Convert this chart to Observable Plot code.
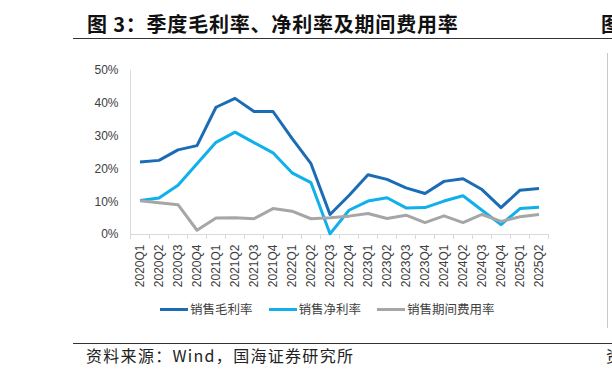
<!DOCTYPE html>
<html>
<head>
<meta charset="utf-8">
<script src="https://cdn.jsdelivr.net/npm/d3@7"></script>
<script src="https://cdn.jsdelivr.net/npm/@observablehq/plot@0.6"></script>
<style>
  html, body { margin: 0; padding: 0; background: #fff; }
  #page { position: relative; width: 612px; height: 379px; overflow: hidden; background: #fff; }
  .abs { position: absolute; white-space: nowrap; }
  #title { left: 87px; top: 10px; font-family: "Noto Sans CJK SC", sans-serif; font-weight: bold; font-size: 20px; letter-spacing: 0.8px; color: #111; line-height: 28px; }
  .rule { position: absolute; height: 0; border-top: 1.5px solid #333; }
  #source { left: 86px; top: 344px; font-family: "Noto Sans CJK SC", sans-serif; font-size: 16px; letter-spacing: 1.3px; color: #222; line-height: 22px; }
  #legend { left: 160px; top: 300px; font-family: "Noto Sans CJK SC", sans-serif; font-size: 12.5px; color: #404040; line-height: 18px; display: flex; align-items: center; }
  .item { display: flex; align-items: center; margin-right: 16px; }
  .sw { width: 28px; height: 3px; margin-right: 2px; }
</style>
</head>
<body>
<div id="page">
  <div id="chart" class="abs" style="left:0;top:0"></div>
  <div id="title" class="abs">图 3：季度毛利率、净利率及期间费用率</div>
  <div class="rule" style="left:73px;top:38px;width:539px"></div>
  <div class="abs" style="left:601px;top:10px;font-family:'Noto Sans CJK SC';font-weight:bold;font-size:20px;line-height:28px;color:#111">图 4</div>
  <div class="abs" style="left:607px;top:53px;width:0;height:275px;border-left:1px solid #c8c8c8"></div>
  <div id="legend" class="abs"></div>
  <div class="rule" style="left:73px;top:343px;width:539px"></div>
  <div id="source" class="abs">资料来源：Wind，国海证券研究所</div>
  <div class="abs" style="left:606px;top:344px;font-family:'Noto Sans CJK SC';font-size:16px;line-height:22px;color:#222">资料</div>
</div>
<script>
const quarters = ["2020Q1","2020Q2","2020Q3","2020Q4","2021Q1","2021Q2","2021Q3","2021Q4",
  "2022Q1","2022Q2","2022Q3","2022Q4","2023Q1","2023Q2","2023Q3","2023Q4",
  "2024Q1","2024Q2","2024Q3","2024Q4","2025Q1","2025Q2"];
const grossMargin = [22.1, 22.6, 25.8, 27.1, 38.8, 41.5, 37.5, 37.5, 29.3, 21.6, 6.1, 11.9,
  18.2, 16.8, 14.2, 12.5, 16.2, 17.0, 13.7, 8.2, 13.5, 14.0];
const netMargin = [10.4, 11.1, 15.0, 21.6, 28.1, 31.2, 28.0, 24.9, 18.8, 15.8, 0.2, 7.4,
  10.2, 11.2, 8.1, 8.2, 10.2, 11.8, 7.4, 3.0, 7.9, 8.3];
const expenseRatio = [10.3, 9.7, 9.1, 1.3, 5.0, 5.1, 4.8, 7.9, 7.1, 4.8, 5.1, 5.6,
  6.4, 4.9, 5.9, 3.6, 5.7, 3.6, 6.1, 4.0, 5.4, 6.1];
const seriesNames = ["销售毛利率", "销售净利率", "销售期间费用率"];
const seriesColors = ["#1a6db5", "#0fb0ec", "#a6a6a6"];
const yTicks = [0, 10, 20, 30, 40, 50];

const seriesValues = [grossMargin, netMargin, expenseRatio];
const idx = d3.range(quarters.length);
const boundaries = d3.range(quarters.length + 1).map(i => i - 0.5);

const lineMarks = seriesValues.map((vals, s) =>
  Plot.line(idx, {x: i => i, y: i => vals[i], stroke: seriesColors[s], strokeWidth: 3,
    strokeLinejoin: "round", strokeLinecap: "butt"}));

const chart = Plot.plot({
  width: 612, height: 379,
  marginLeft: 130, marginRight: 64, marginTop: 70, marginBottom: 145,
  style: {fontFamily: "'Liberation Sans', Arial, sans-serif", fontSize: "12px", color: "#404040", background: "transparent"},
  x: {type: "linear", domain: [-0.5, quarters.length - 0.5], axis: null},
  y: {domain: [0, 50], axis: null},
  marks: [
    Plot.ruleY([0], {stroke: "#d9d9d9", strokeWidth: 1}),
    Plot.ruleX([-0.5], {y1: 0, y2: 50, stroke: "#d9d9d9", strokeWidth: 1}),
    Plot.ruleX(boundaries, {y1: 0, y2: 0, insetTop: 5, stroke: "#d9d9d9", strokeWidth: 1}),
    Plot.axisY({ticks: yTicks, tickSize: 0, tickPadding: 12, tickFormat: d => d + "%", label: null, fontSize: 12, fill: "#404040"}),
    Plot.axisX({ticks: idx, tickSize: 0, tickPadding: 10, tickRotate: -90, tickFormat: i => quarters[i], label: null, fontSize: 12, fill: "#404040"}),
    ...lineMarks
  ]
});
document.getElementById("chart").appendChild(chart);

const legend = document.getElementById("legend");
seriesNames.forEach((name, s) => {
  const item = document.createElement("div");
  item.className = "item";
  const sw = document.createElement("div");
  sw.className = "sw";
  sw.style.background = seriesColors[s];
  const t = document.createElement("span");
  t.textContent = name;
  item.appendChild(sw); item.appendChild(t);
  legend.appendChild(item);
});
</script>
</body>
</html>
